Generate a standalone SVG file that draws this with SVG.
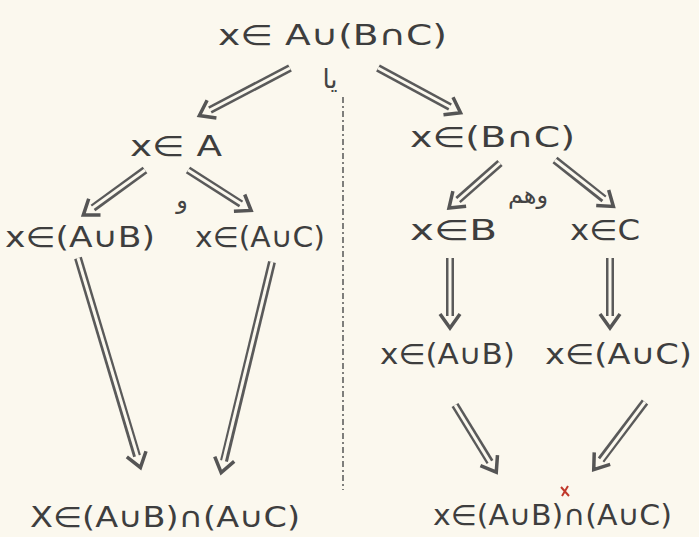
<svg xmlns="http://www.w3.org/2000/svg" width="699" height="537" viewBox="0 0 699 537">
<style>
.t{font-family:"DejaVu Sans","Liberation Sans",sans-serif;font-size:28px;fill:#3e3e3e}
.s{font-family:"DejaVu Sans",sans-serif;fill:#444}
.a1{stroke:#5a5a5a;stroke-width:8;fill:none;stroke-linecap:butt}
.a2{stroke:#fbf8ee;stroke-width:3;fill:none}
</style>
<defs>
<marker id="h" markerUnits="userSpaceOnUse" markerWidth="30" markerHeight="30" refX="6" refY="15" orient="auto">
<path d="M4,5 L18,15 L4,25" fill="none" stroke="#555" stroke-width="3.5" stroke-linejoin="miter"/>
</marker>
</defs>
<rect width="699" height="537" fill="#fbf8ee"/>
<g id="connectors">
<line x1="343" y1="97" x2="343" y2="490" stroke="#555" stroke-width="1.5" stroke-dasharray="6,3,2,3"/>
<g>
<line class="a1" x1="290" y1="68" x2="210" y2="110" marker-end="url(#h)"/><line class="a2" x1="290" y1="68" x2="208" y2="111"/>
<line class="a1" x1="378" y1="68" x2="450" y2="107" marker-end="url(#h)"/><line class="a2" x1="378" y1="68" x2="452" y2="108"/>
<line class="a1" x1="145" y1="170" x2="93" y2="208" marker-end="url(#h)"/><line class="a2" x1="145" y1="170" x2="91" y2="209"/>
<line class="a1" x1="188" y1="170" x2="241" y2="204" marker-end="url(#h)"/><line class="a2" x1="188" y1="170" x2="243" y2="205"/>
<line class="a1" x1="500" y1="163" x2="458" y2="200" marker-end="url(#h)"/><line class="a2" x1="500" y1="163" x2="456" y2="202"/>
<line class="a1" x1="555" y1="160" x2="604" y2="199" marker-end="url(#h)"/><line class="a2" x1="555" y1="160" x2="606" y2="200"/>
<line class="a1" x1="450" y1="258" x2="450" y2="316" marker-end="url(#h)"/><line class="a2" x1="450" y1="258" x2="450" y2="318"/>
<line class="a1" x1="610" y1="258" x2="610" y2="316" marker-end="url(#h)"/><line class="a2" x1="610" y1="258" x2="610" y2="318"/>
<line class="a1" x1="455" y1="405" x2="490" y2="462" marker-end="url(#h)"/><line class="a2" x1="455" y1="405" x2="491" y2="464"/>
<line class="a1" x1="645" y1="402" x2="601" y2="460" marker-end="url(#h)"/><line class="a2" x1="645" y1="402" x2="600" y2="462"/>
<line class="a1" x1="78" y1="258" x2="137" y2="456" marker-end="url(#h)"/><line class="a2" x1="78" y1="258" x2="138" y2="458"/>
<line class="a1" x1="272" y1="262" x2="224" y2="461" marker-end="url(#h)"/><line class="a2" x1="272" y1="262" x2="223" y2="463"/>
</g>
</g>
<g id="n-top"><text class="t" x="218" y="45" textLength="229" lengthAdjust="spacingAndGlyphs">x∈ A∪(B∩C)</text></g>
<g id="n-or"><text class="s" x="330" y="88" text-anchor="middle" font-size="26" direction="rtl">یا</text></g>
<g id="n-a"><text class="t" x="130" y="156" textLength="92" lengthAdjust="spacingAndGlyphs">x∈ A</text></g>
<g id="n-bc"><text class="t" x="410" y="147" textLength="165" lengthAdjust="spacingAndGlyphs">x∈(B∩C)</text></g>
<g id="n-aub1"><text class="t" x="5" y="247" textLength="150" lengthAdjust="spacingAndGlyphs">x∈(A∪B)</text></g>
<g id="n-auc1"><text class="t" x="195" y="247" textLength="130" lengthAdjust="spacingAndGlyphs">x∈(A∪C)</text></g>
<g id="n-and1"><text class="s" x="182" y="208" text-anchor="middle" font-size="24" direction="rtl">و</text></g>
<g id="n-and2"><text class="s" x="528" y="203" text-anchor="middle" font-size="24" direction="rtl">وهم</text></g>
<g id="n-b"><text class="t" x="410" y="240" textLength="87" lengthAdjust="spacingAndGlyphs">x∈B</text></g>
<g id="n-c"><text class="t" x="570" y="240" textLength="70" lengthAdjust="spacingAndGlyphs">x∈C</text></g>
<g id="n-aub2"><text class="t" x="380" y="364" textLength="135" lengthAdjust="spacingAndGlyphs">x∈(A∪B)</text></g>
<g id="n-auc2"><text class="t" x="545" y="364" textLength="147" lengthAdjust="spacingAndGlyphs">x∈(A∪C)</text></g>
<g id="n-res1"><text class="t" x="30" y="527" font-size="27" textLength="270" lengthAdjust="spacingAndGlyphs">X∈(A∪B)∩(A∪C)</text></g>
<g id="n-res2"><text class="t" x="433" y="525" font-size="27" textLength="239" lengthAdjust="spacingAndGlyphs">x∈(A∪B)∩(A∪C)</text>
<path d="M561,487 L569,496 M568,486 L562,496" stroke="#c0392b" stroke-width="2"/></g>
</svg>
